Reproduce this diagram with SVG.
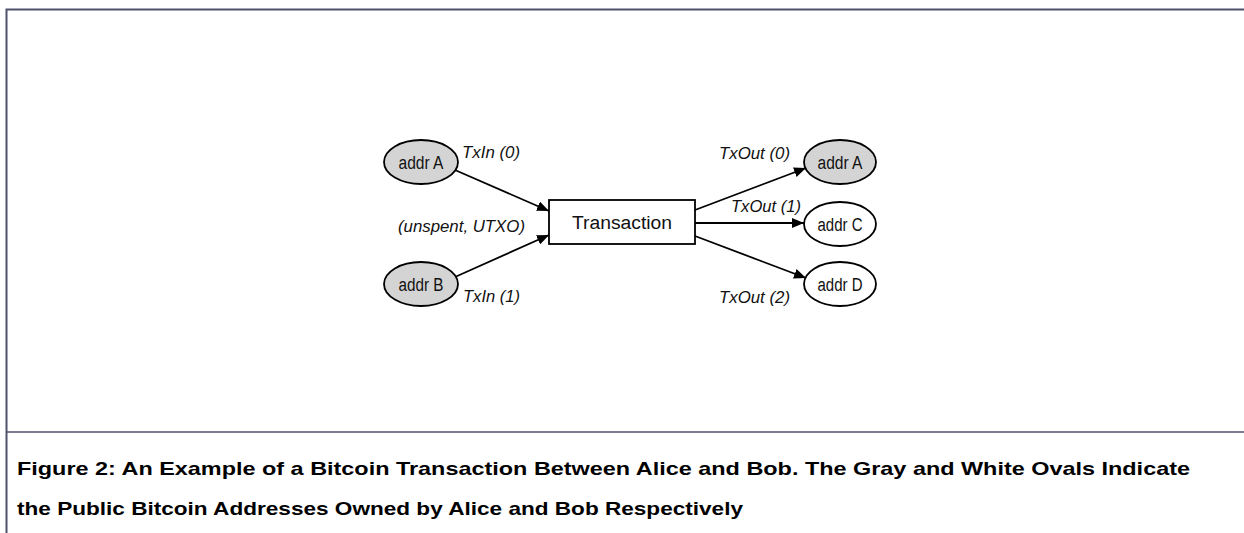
<svg xmlns="http://www.w3.org/2000/svg" width="1244" height="533" viewBox="0 0 1244 533">
<style>
.frame{stroke:#50506a;fill:none}
.node{stroke:#000;stroke-width:1.8}
.gray{fill:#d4d4d4}
.white{fill:#fff}
.nt{font-family:"Liberation Sans",Arial,sans-serif;font-size:18px;fill:#111;text-anchor:middle}
.lbl{font-family:"Liberation Sans",Arial,sans-serif;font-size:17px;font-style:italic;fill:#111}
.edge{stroke:#000;stroke-width:1.8;fill:none;marker-end:url(#ah)}
.cap{font-family:"Liberation Sans",Arial,sans-serif;font-size:19px;font-weight:bold;fill:#000}
</style>
<defs>
<marker id="ah" viewBox="0 0 12 10" refX="12" refY="5" markerWidth="12" markerHeight="10" markerUnits="userSpaceOnUse" orient="auto">
<path d="M0,0 L12,5 L0,10 z" fill="#000"/>
</marker>
</defs>
<rect width="1244" height="533" fill="#fff"/>
<g id="frame">
<path class="frame" stroke-width="2" d="M1244,9.5 H6.5 V533"/>
<path class="frame" stroke-width="1.5" d="M6,432 H1244"/>
</g>
<g id="connectors">
<line class="edge" x1="455" y1="170" x2="549" y2="211"/>
<line class="edge" x1="455" y1="277" x2="549" y2="235"/>
<line class="edge" x1="695" y1="210" x2="806" y2="168"/>
<line class="edge" x1="695" y1="223" x2="804" y2="223"/>
<line class="edge" x1="695" y1="236" x2="806" y2="278"/>
</g>
<g id="labels">
<text class="lbl" x="462" y="158" textLength="58" lengthAdjust="spacingAndGlyphs">TxIn (0)</text>
<text class="lbl" x="398" y="232" textLength="127" lengthAdjust="spacingAndGlyphs">(unspent, UTXO)</text>
<text class="lbl" x="463" y="302" textLength="57" lengthAdjust="spacingAndGlyphs">TxIn (1)</text>
<text class="lbl" x="719" y="159" textLength="71" lengthAdjust="spacingAndGlyphs">TxOut (0)</text>
<text class="lbl" x="731" y="212" textLength="70" lengthAdjust="spacingAndGlyphs">TxOut (1)</text>
<text class="lbl" x="719" y="303" textLength="71" lengthAdjust="spacingAndGlyphs">TxOut (2)</text>
</g>
<g id="addrA_in">
<ellipse class="node gray" cx="421" cy="162" rx="37" ry="22"/>
<text class="nt" x="421" y="168.5" textLength="45" lengthAdjust="spacingAndGlyphs">addr A</text>
</g>
<g id="addrB_in">
<ellipse class="node gray" cx="421" cy="284" rx="37" ry="22"/>
<text class="nt" x="421" y="290.5" textLength="45" lengthAdjust="spacingAndGlyphs">addr B</text>
</g>
<g id="transaction">
<rect class="node white" x="549" y="200" width="146" height="44"/>
<text class="nt" x="622" y="229" font-size="22" textLength="100" lengthAdjust="spacingAndGlyphs">Transaction</text>
</g>
<g id="addrA_out">
<ellipse class="node gray" cx="840" cy="162" rx="36" ry="22"/>
<text class="nt" x="840" y="168.5" textLength="45" lengthAdjust="spacingAndGlyphs">addr A</text>
</g>
<g id="addrC">
<ellipse class="node white" cx="840" cy="224" rx="36" ry="22"/>
<text class="nt" x="840" y="230.5" textLength="45" lengthAdjust="spacingAndGlyphs">addr C</text>
</g>
<g id="addrD">
<ellipse class="node white" cx="840" cy="284" rx="36" ry="22"/>
<text class="nt" x="840" y="290.5" textLength="45" lengthAdjust="spacingAndGlyphs">addr D</text>
</g>
<g id="caption">
<text class="cap" x="17" y="475" textLength="1173" lengthAdjust="spacingAndGlyphs">Figure 2: An Example of a Bitcoin Transaction Between Alice and Bob. The Gray and White Ovals Indicate</text>
<text class="cap" x="17" y="515" textLength="726" lengthAdjust="spacingAndGlyphs">the Public Bitcoin Addresses Owned by Alice and Bob Respectively</text>
</g>
</svg>
